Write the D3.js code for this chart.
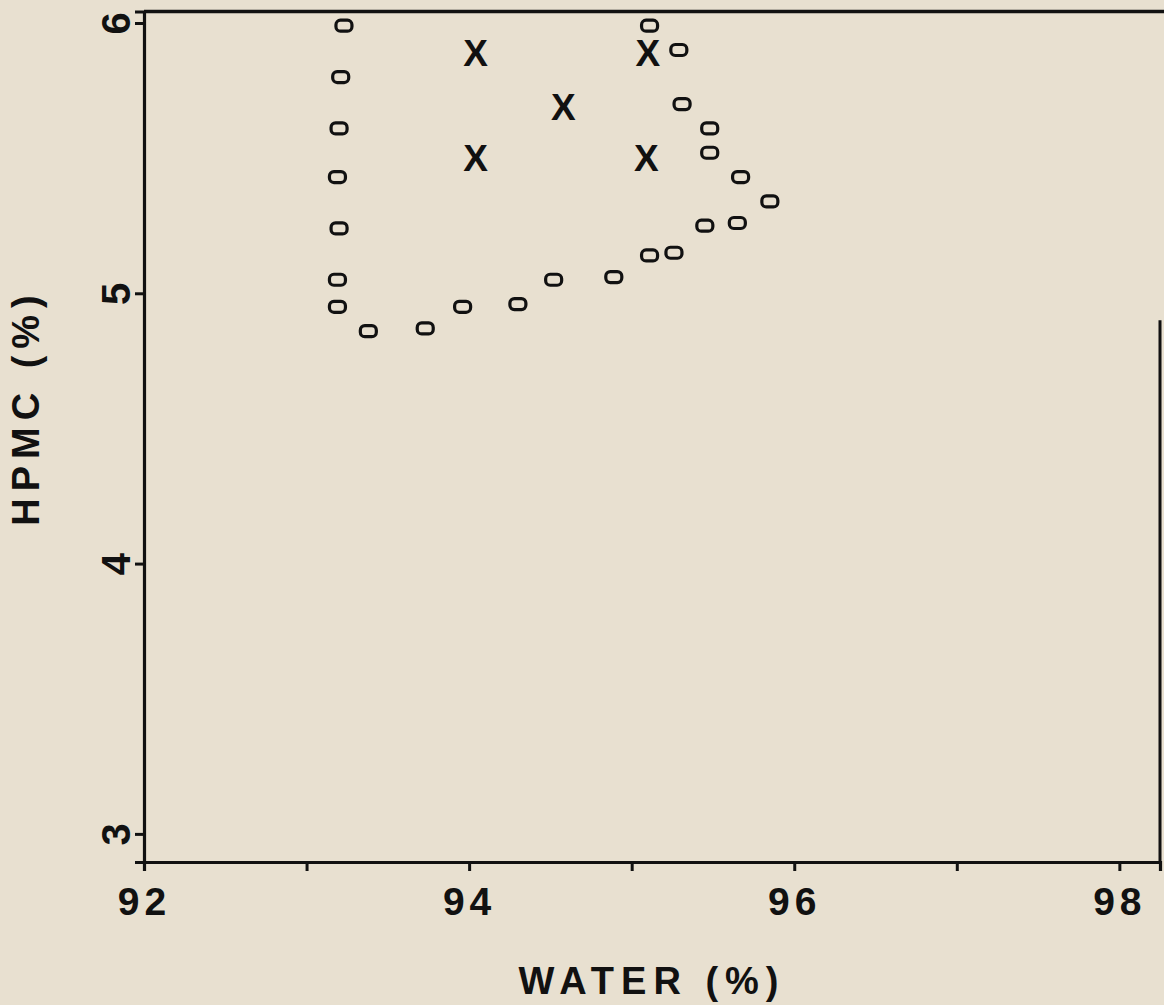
<!DOCTYPE html>
<html>
<head>
<meta charset="utf-8">
<script src="https://cdn.jsdelivr.net/npm/d3@7"></script>
<style>
	html, body { margin: 0; padding: 0; background: #e8e0d0; }
	svg { display: block; }
	text { fill: #111; font-family: "Liberation Sans", Arial, sans-serif; }
</style>
</head>
<body>
<div class="plot-container"></div>
<script>
// boundary points (o)
const boundaryWater = [93.23, 93.21, 93.20, 93.19, 93.20, 93.19, 93.19, 93.38, 93.73, 93.96, 94.30, 94.52,
	94.89, 95.11, 95.26, 95.45, 95.65, 95.85, 95.67, 95.48, 95.48, 95.31, 95.29, 95.11];
const boundaryHpmc = [5.99, 5.80, 5.61, 5.43, 5.24, 5.05, 4.95, 4.86, 4.87, 4.95, 4.96, 5.05,
	5.06, 5.14, 5.15, 5.25, 5.26, 5.34, 5.43, 5.52, 5.61, 5.70, 5.90, 5.99];

// formulation points (X)
const formWater = [94.04, 95.10, 94.58, 94.04, 95.09];
const formHpmc = [5.89, 5.89, 5.69, 5.50, 5.50];

const xTicks = [92, 93, 94, 95, 96, 97, 98];
const xTickLabels = ["92", "", "94", "", "96", "", "98"];
const yTicks = [3, 4, 5, 6];

const width = 1164, height = 1005;
const margin = {top: 11.5, right: 4, bottom: 143, left: 144};
const innerW = width - margin.left - margin.right;
const innerH = height - margin.top - margin.bottom;

const svg = d3.select(".plot-container").append("svg")
	.attr("width", width)
	.attr("height", height);

const g = svg.append("g")
	.attr("transform", `translate(${margin.left},${margin.top})`);

const x = d3.scaleLinear()
	.domain([92, 98.25])
	.range([0, innerW]);

const y = d3.scaleLinear()
	.domain([2.896, 6.0425])
	.range([innerH, 0]);

// axes
const xAxis = d3.axisBottom(x)
	.tickValues(xTicks)
	.tickFormat((d, i) => xTickLabels[i])
	.tickSizeOuter(0)
	.tickSize(9)
	.tickPadding(16);

const xAxisG = g.append("g")
	.attr("transform", `translate(0,${innerH})`)
	.call(xAxis);
xAxisG.select(".domain").attr("stroke", "#111").attr("stroke-width", 3.2);
xAxisG.selectAll(".tick line").attr("stroke", "#111").attr("stroke-width", 3);
xAxisG.selectAll(".tick text")
	.attr("font-size", 39)
	.attr("font-weight", "bold")
	.attr("letter-spacing", 5)
	.attr("dy", "0.71em");

const yAxis = d3.axisLeft(y)
	.tickValues(yTicks)
	.tickFormat(d3.format("d"))
	.tickSizeOuter(0)
	.tickSize(9);

const yAxisG = g.append("g").call(yAxis);
yAxisG.select(".domain").attr("stroke", "#111").attr("stroke-width", 3.2);
yAxisG.selectAll(".tick line").attr("stroke", "#111").attr("stroke-width", 3);
yAxisG.selectAll(".tick text")
	.attr("font-size", 40)
	.attr("font-weight", "bold")
	.attr("x", null)
	.attr("dy", null)
	.attr("text-anchor", "middle")
	.attr("transform", "translate(-14,0) rotate(-90)");

// frame: top and right borders
g.append("line")
	.attr("x1", 0).attr("x2", innerW + margin.right)
	.attr("y1", 0).attr("y2", 0)
	.attr("stroke", "#111").attr("stroke-width", 3.4);
g.append("line")
	.attr("x1", innerW).attr("x2", innerW)
	.attr("y1", y(4.9)).attr("y2", innerH)
	.attr("stroke", "#111").attr("stroke-width", 3);

// boundary markers
const boundary = boundaryWater.map((w, i) => ({water: w, hpmc: boundaryHpmc[i]}));
g.selectAll("rect.bnd")
	.data(boundary)
	.enter().append("rect")
	.attr("class", "bnd")
	.attr("x", d => x(d.water) - 8)
	.attr("y", d => y(d.hpmc) - 5.5)
	.attr("width", 16)
	.attr("height", 11)
	.attr("rx", 4.5)
	.attr("fill", "none")
	.attr("stroke", "#111")
	.attr("stroke-width", 3.2);

// formulation markers
const forms = formWater.map((w, i) => ({water: w, hpmc: formHpmc[i]}));
g.selectAll("text.form")
	.data(forms)
	.enter().append("text")
	.attr("class", "form")
	.attr("x", d => x(d.water))
	.attr("y", d => y(d.hpmc))
	.attr("dy", "0.36em")
	.attr("text-anchor", "middle")
	.attr("font-size", 37)
	.attr("font-weight", "bold")
	.text("X");

// axis titles
svg.append("text")
	.attr("x", 652)
	.attr("y", 994)
	.attr("text-anchor", "middle")
	.attr("font-size", 38)
	.attr("font-weight", "bold")
	.attr("letter-spacing", 7)
	.text("WATER (%)");

svg.append("text")
	.attr("transform", "translate(39,407) rotate(-90)")
	.attr("text-anchor", "middle")
	.attr("font-size", 38)
	.attr("font-weight", "bold")
	.attr("letter-spacing", 7)
	.text("HPMC (%)");
</script>
</body>
</html>
